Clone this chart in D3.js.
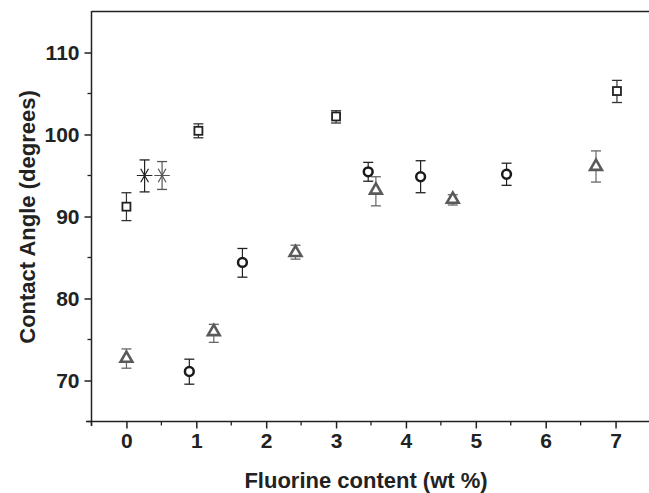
<!DOCTYPE html>
<html>
<head>
<meta charset="utf-8">
<script src="https://cdn.jsdelivr.net/npm/d3@7/dist/d3.min.js"></script>
<style>
  body { margin: 0; background: #fff; }
  svg { display: block; font-family: "Liberation Sans", Arial, sans-serif; font-weight: bold; }
</style>
</head>
<body>
<svg id="chart" width="649" height="493"></svg>
<script>
// square series
var squareX = [0, 1.03, 3.0, 7.02];
var squareY = [91.2, 100.45, 102.2, 105.3];
var squareLo = [89.5, 99.6, 101.4, 103.9];
var squareHi = [92.9, 101.3, 102.9, 106.6];

// asterisk series (first black, second gray)
var starX = [0.26, 0.51];
var starY = [95.0, 95.0];
var starLo = [93.0, 93.3];
var starHi = [96.9, 96.7];
var starColor = ["#222", "#555"];

// circle series
var circleX = [0.9, 1.66, 3.46, 4.21, 5.44];
var circleY = [71.1, 84.4, 95.45, 94.85, 95.15];
var circleLo = [69.55, 82.6, 94.3, 92.9, 93.8];
var circleHi = [72.6, 86.1, 96.6, 96.8, 96.5];

// triangle series
var triX = [0, 1.25, 2.42, 3.57, 4.67, 6.72];
var triY = [72.7, 75.95, 85.6, 93.2, 92.1, 96.1];
var triLo = [71.5, 74.65, 84.8, 91.3, 91.4, 94.2];
var triHi = [73.85, 76.85, 86.5, 94.85, 92.65, 98.0];

var xTicks = [0, 1, 2, 3, 4, 5, 6, 7];
var yTicks = [70, 80, 90, 100, 110];

var svg = d3.select("#chart");
var x = d3.scaleLinear().domain([-0.5, 7.5]).range([91.5, 650.5]);
var y = d3.scaleLinear().domain([65, 115]).range([421.5, 11.5]);

// top frame line
svg.append("line").attr("x1", 91.5).attr("x2", 649).attr("y1", 11.5).attr("y2", 11.5)
    .attr("stroke", "#222").attr("stroke-width", 1.5);

// minor ticks
var xMinor = d3.range(-0.5, 7.6, 0.5).filter(function(v){ return v % 1 !== 0; });
var yMinor = d3.range(65, 115, 5).filter(function(v){ return v % 10 !== 0; });

var g = svg.append("g");
g.selectAll("line.xminor").data(xMinor).enter().append("line")
    .attr("x1", function(d){ return x(d); }).attr("x2", function(d){ return x(d); })
    .attr("y1", 421.5).attr("y2", 425.5).attr("stroke", "#222").attr("stroke-width", 1.3);
g.selectAll("line.yminor").data(yMinor).enter().append("line")
    .attr("x1", 87.5).attr("x2", 91.5)
    .attr("y1", function(d){ return y(d); }).attr("y2", function(d){ return y(d); })
    .attr("stroke", "#222").attr("stroke-width", 1.3);

// axes
var xAxis = d3.axisBottom(x).tickValues(xTicks).tickSize(7).tickPadding(5).tickFormat(d3.format("d"));
var yAxis = d3.axisLeft(y).tickValues(yTicks).tickSize(7).tickPadding(5).tickFormat(d3.format("d"));

var gx = svg.append("g").attr("transform", "translate(0,421.5)").call(xAxis);
var gy = svg.append("g").attr("transform", "translate(91.5,0)").call(yAxis);

[gx, gy].forEach(function(a){
    a.select(".domain").remove();
    a.selectAll(".tick line").attr("stroke", "#222").attr("stroke-width", 1.5);
    a.selectAll(".tick text").attr("fill", "#222").style("font-size", "21px")
        .style("font-family", "'Liberation Sans', Arial, sans-serif").style("font-weight", "bold");
});
svg.append("line").attr("x1", 86).attr("x2", 649).attr("y1", 421.5).attr("y2", 421.5)
    .attr("stroke", "#222").attr("stroke-width", 1.5);
svg.append("line").attr("x1", 91.5).attr("x2", 91.5).attr("y1", 11).attr("y2", 426)
    .attr("stroke", "#222").attr("stroke-width", 1.5);

// axis titles
svg.append("text").attr("x", 366).attr("y", 488).attr("text-anchor", "middle")
    .attr("fill", "#222").style("font-size", "22px").text("Fluorine content (wt %)");
svg.append("text").attr("transform", "translate(35,217) rotate(-90)").attr("text-anchor", "middle")
    .attr("fill", "#222").style("font-size", "22px").text("Contact Angle (degrees)");

// error bars
function errorBars(xs, lo, hi, color) {
    var eg = svg.append("g");
    xs.forEach(function(xv, i){
        var c = Array.isArray(color) ? color[i] : color;
        var px = x(xv);
        eg.append("line").attr("x1", px).attr("x2", px).attr("y1", y(lo[i])).attr("y2", y(hi[i]))
            .attr("stroke", c).attr("stroke-width", 1.2);
        [lo[i], hi[i]].forEach(function(v){
            eg.append("line").attr("x1", px - 5).attr("x2", px + 5).attr("y1", y(v)).attr("y2", y(v))
                .attr("stroke", c).attr("stroke-width", 1.3);
        });
    });
}

errorBars(squareX, squareLo, squareHi, "#333");
errorBars(starX, starLo, starHi, starColor);
errorBars(circleX, circleLo, circleHi, "#222");
errorBars(triX, triLo, triHi, "#666");

// squares
svg.append("g").selectAll("rect").data(squareX).enter().append("rect")
    .attr("x", function(d){ return x(d) - 4; })
    .attr("y", function(d, i){ return y(squareY[i]) - 4; })
    .attr("width", 8).attr("height", 8)
    .attr("fill", "#fff").attr("stroke", "#222").attr("stroke-width", 1.8);

// asterisks
var starSym = d3.symbol().type(d3.symbolAsterisk).size(170);
svg.append("g").selectAll("path").data(starX).enter().append("path")
    .attr("d", starSym)
    .attr("transform", function(d, i){ return "translate(" + x(d) + "," + y(starY[i]) + ") rotate(90)"; })
    .attr("fill", "none").attr("stroke", function(d, i){ return starColor[i]; }).attr("stroke-width", 1.2);

// circles
svg.append("g").selectAll("circle").data(circleX).enter().append("circle")
    .attr("cx", function(d){ return x(d); })
    .attr("cy", function(d, i){ return y(circleY[i]); })
    .attr("r", 4.4)
    .attr("fill", "#fff").attr("stroke", "#1a1a1a").attr("stroke-width", 2.5);

// triangles
var triSym = d3.symbol().type(d3.symbolTriangle).size(60);
svg.append("g").selectAll("path").data(triX).enter().append("path")
    .attr("d", triSym)
    .attr("transform", function(d, i){ return "translate(" + x(d) + "," + y(triY[i]) + ")"; })
    .attr("fill", "#fff").attr("stroke", "#5a5a5a").attr("stroke-width", 2.6);
</script>
</body>
</html>
